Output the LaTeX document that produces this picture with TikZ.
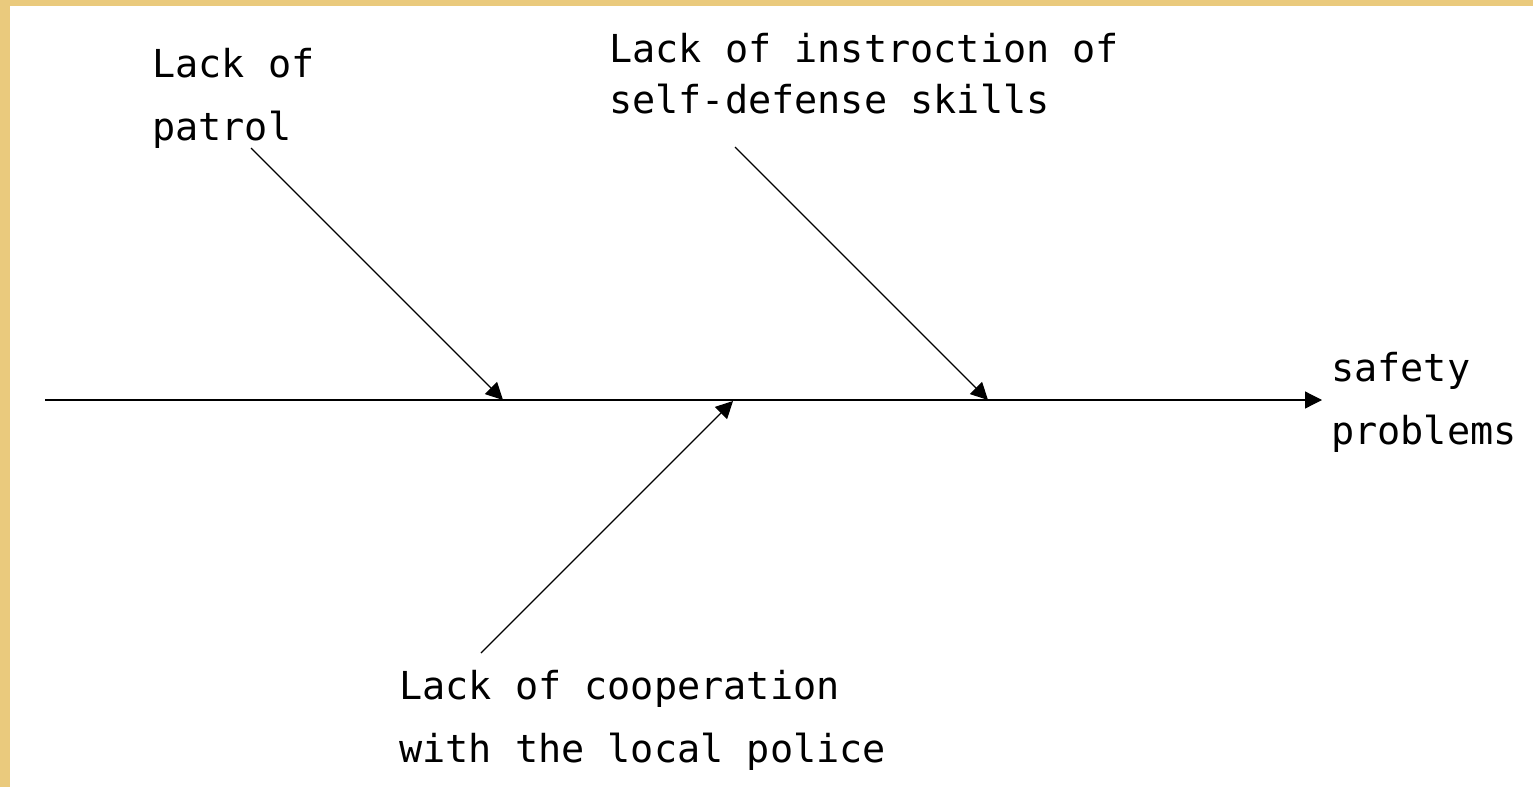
\documentclass[tikz,border=0pt]{standalone}
\usepackage{fontspec}
\newfontfamily\lblmono{DejaVu Sans Mono}
\usetikzlibrary{arrows.meta}
\definecolor{frameyellow}{RGB}{234,202,125}
\begin{document}
\begin{tikzpicture}[x=1pt,y=-1pt,
  lbl/.style={font=\lblmono\fontsize{38.5}{63}\selectfont, anchor=base west, inner sep=0pt, align=left},
  bone/.style={line width=1.2pt, -{Triangle[length=17pt,width=17pt]}}]
  \useasboundingbox (0,0) rectangle (1533,787);
  \fill[frameyellow] (0,0) rectangle (1533,787);
  \fill[white] (10,6) rectangle (1533,787);
  % spine
  \coordinate (s0) at (45,400);
  \coordinate (s1) at (1322,400);
  \coordinate (j1) at (503,400);
  \coordinate (j2) at (988,400);
  \coordinate (j3) at (733,401);
  \coordinate (b1) at (251,148);
  \coordinate (b2) at (735,147);
  \coordinate (b3) at (481,653);
  \draw[bone] (s0) -- (s1);
  \draw[bone] (b1) -- (j1);
  \draw[bone] (b2) -- (j2);
  \draw[bone] (b3) -- (j3);
  % labels (anchor = baseline of last line)
  \node[lbl] (patrol) at (152,140) {Lack of\\patrol};
  \node[lbl, font=\lblmono\fontsize{38.5}{51}\selectfont] (instr) at (609,113) {Lack of instroction of\\self-defense skills};
  \node[lbl] (safety) at (1331,444) {safety\\problems};
  \node[lbl] (coop) at (399,762) {Lack of cooperation\\with the local police};
\end{tikzpicture}
\end{document}
